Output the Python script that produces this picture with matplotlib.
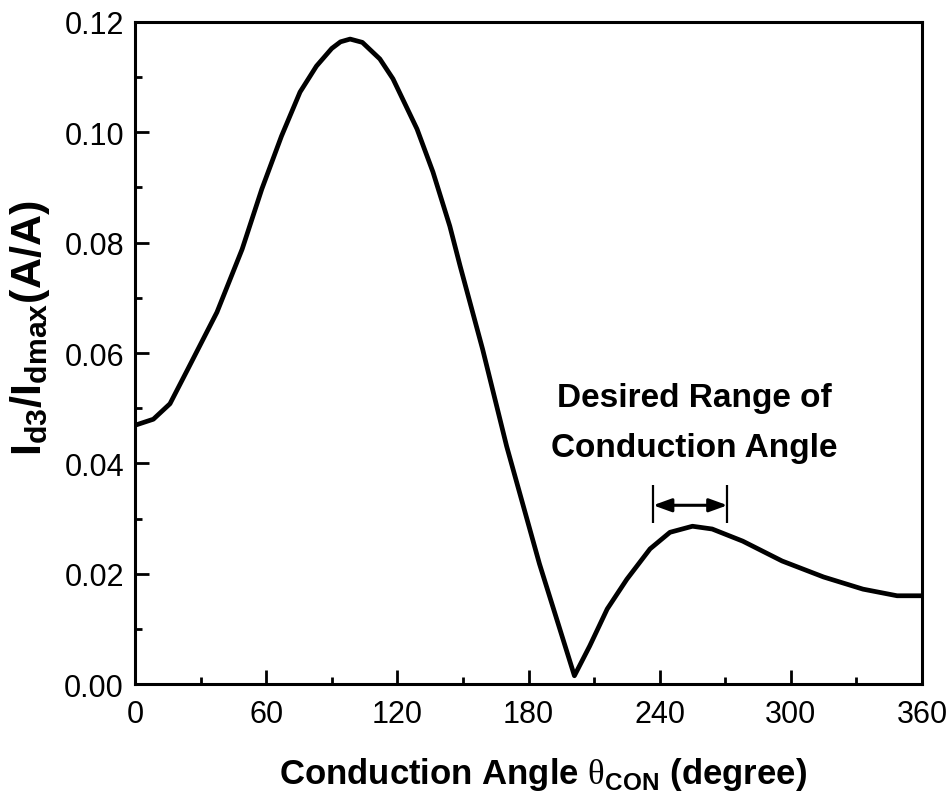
import numpy as np
import matplotlib.pyplot as plt
from matplotlib.ticker import MultipleLocator

# ---- data ----
angle = [0, 8.4, 16, 24.2, 37.5, 49, 58, 67, 75.5, 83, 90, 94, 98.4, 104,
         112, 118, 129, 136.3, 144, 148.7, 159, 170, 185, 201, 208, 216,
         225, 235.6, 244.7, 255, 264, 278, 296, 315, 333, 348.6, 360]
ratio = [0.0469, 0.048, 0.0508, 0.0571, 0.0674, 0.0788, 0.0897, 0.0993,
         0.1073, 0.112, 0.1152, 0.1164, 0.1169, 0.1163, 0.1133, 0.1097,
         0.1006, 0.0928, 0.083, 0.0758, 0.0607, 0.0431, 0.0218, 0.0015,
         0.0069, 0.0136, 0.019, 0.0245, 0.0275, 0.0286, 0.0281, 0.0259,
         0.0223, 0.0194, 0.0172, 0.016, 0.016]

range_lo, range_hi = 237, 271
range_y = 0.0324
note_lines = ["Desired Range of", "Conduction Angle"]

xticks = [0, 60, 120, 180, 240, 300, 360]
yticks = [0.00, 0.02, 0.04, 0.06, 0.08, 0.10, 0.12]

# ---- style ----
plt.rcParams['font.family'] = ['Liberation Sans', 'DejaVu Sans']
plt.rcParams['mathtext.fontset'] = 'custom'
plt.rcParams['mathtext.sf'] = 'Liberation Sans:bold'
plt.rcParams['mathtext.rm'] = 'Liberation Serif'

fig = plt.figure(figsize=(9.52, 8.03), dpi=100)
ax = fig.add_axes([0.1418, 0.1469, 0.8267, 0.8245])

ax.plot(angle, ratio, color='black', lw=3.4, solid_joinstyle='round')

# range marker
ax.vlines([range_lo, range_hi], range_y - 0.0033, range_y + 0.0037,
          color='black', lw=1.6)
ax.annotate('', xy=(range_hi, range_y), xytext=(range_lo, range_y),
            arrowprops=dict(arrowstyle='<|-|>,head_length=1.1,head_width=0.4',
                            color='black', lw=2.2, shrinkA=0, shrinkB=0))
ax.text(256, 0.0504, note_lines[0], ha='center', va='baseline',
        fontsize=24, fontweight='bold')
ax.text(256, 0.0413, note_lines[1], ha='center', va='baseline',
        fontsize=24, fontweight='bold')

ax.set_xlim(0, 360)
ax.set_ylim(0, 0.12)
ax.set_xticks(xticks)
ax.set_yticks(yticks)
ax.set_yticklabels([f"{v:.2f}" for v in yticks])
ax.xaxis.set_minor_locator(MultipleLocator(30))
ax.yaxis.set_minor_locator(MultipleLocator(0.01))

ax.tick_params(which='both', direction='in', top=False, right=False, width=2)
ax.tick_params(which='major', length=10, labelsize=22, pad=8)
ax.tick_params(which='minor', length=5)
ax.tick_params(axis='x', which='major', pad=11)

for s in ax.spines.values():
    s.set_linewidth(2.2)

ax.set_xlabel(r'Conduction Angle $\mathrm{\theta}_{\mathsf{CON}}$ (degree)',
              fontsize=25, fontweight='bold')
ax.set_ylabel(r'$\mathsf{I}_{\mathsf{d3}}\mathsf{/I}_{\mathsf{dmax}}\mathsf{(A/A)}$',
              fontsize=31)
ax.xaxis.set_label_coords(0.518, -0.107)
ax.yaxis.set_label_coords(-0.106, 0.539)

fig.savefig('out.png', dpi=100)
